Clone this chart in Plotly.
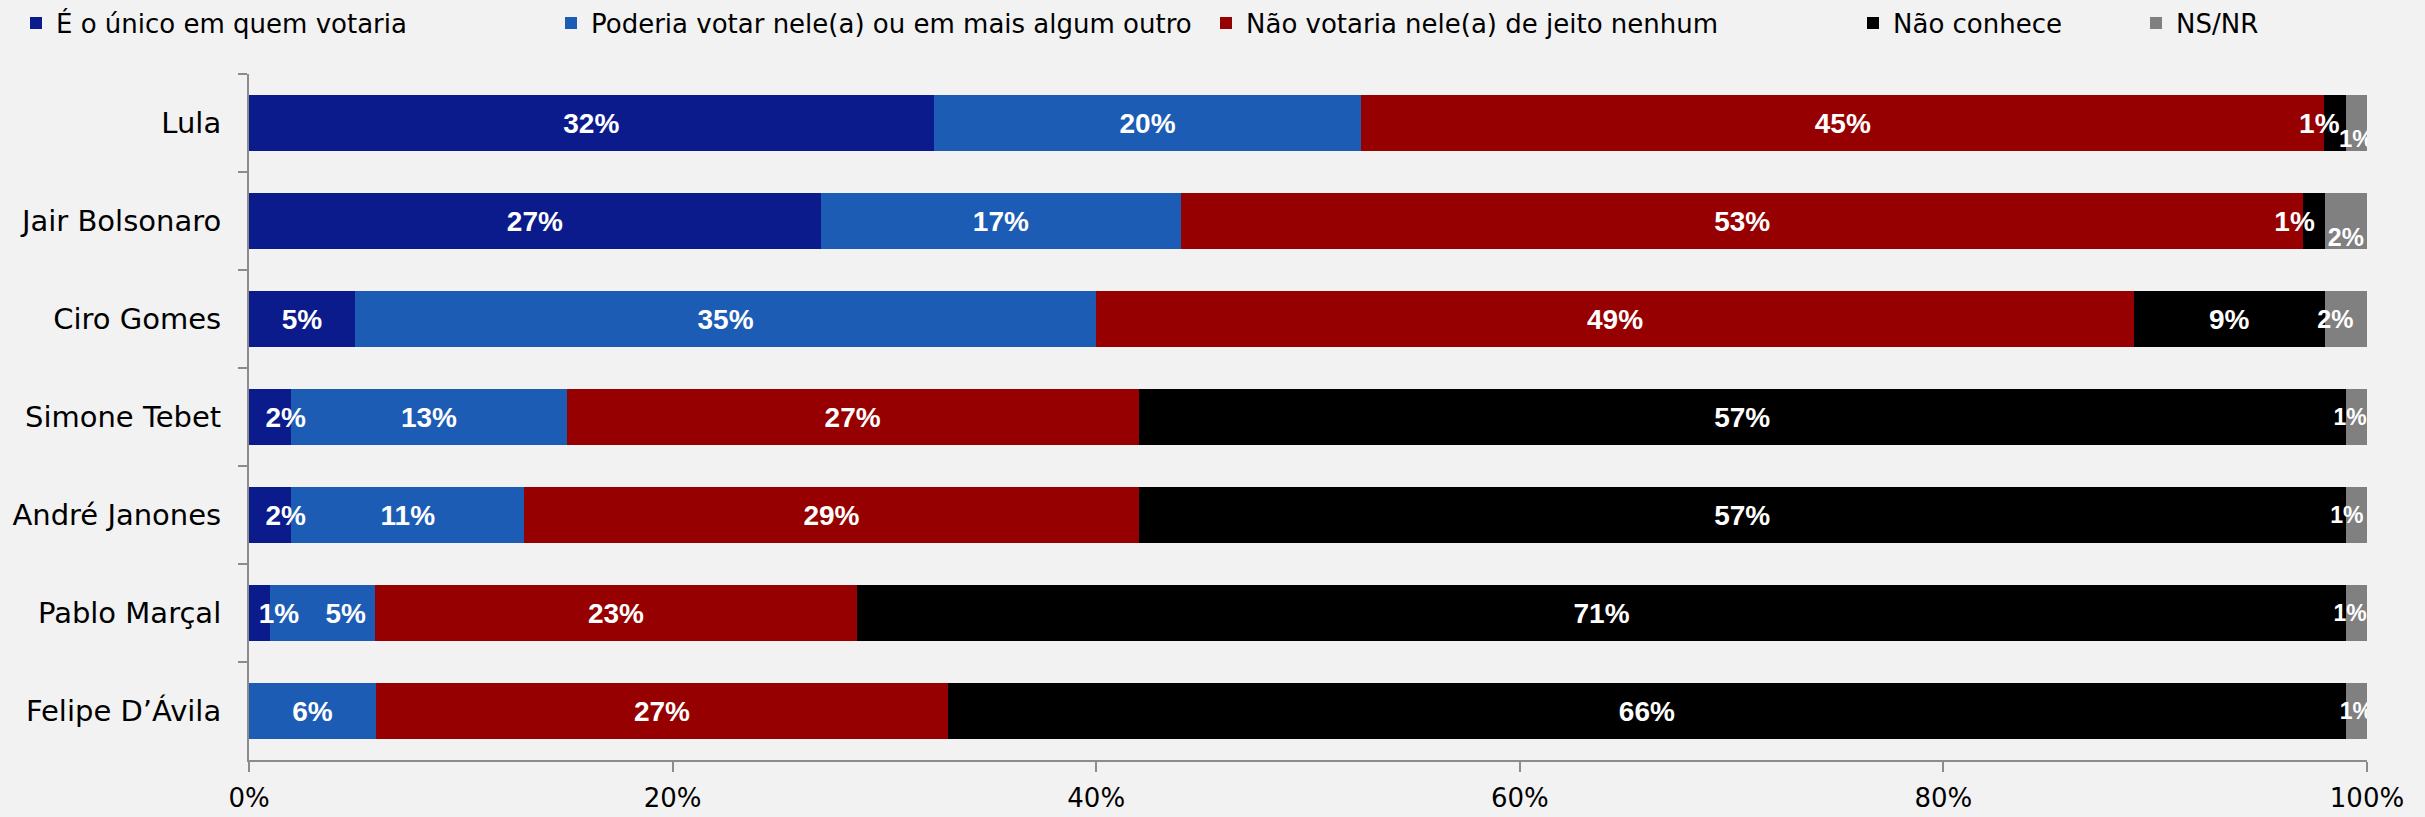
import plotly.graph_objects as go

# ---- data ----
candidates = ["Lula", "Jair Bolsonaro", "Ciro Gomes", "Simone Tebet",
              "André Janones", "Pablo Marçal", "Felipe D’Ávila"]
unico = [32, 27, 5, 2, 2, 1, 0]
poderia = [20, 17, 35, 13, 11, 5, 6]
nao_votaria = [45, 53, 49, 27, 29, 23, 27]
nao_conhece = [1, 1, 9, 57, 57, 71, 66]
ns_nr = [1, 2, 2, 1, 1, 1, 1]

series_names = ["É o único em quem votaria",
                "Poderia votar nele(a) ou em mais algum outro",
                "Não votaria nele(a) de jeito nenhum",
                "Não conhece",
                "NS/NR"]
x_tick_values = [0, 20, 40, 60, 80, 100]
x_tick_labels = ["0%", "20%", "40%", "60%", "80%", "100%"]

# ---- styling ----
colors = ["#0c1b8c", "#1c5cb4", "#960000", "#000000", "#808080"]
legend_px = [16, 551, 1206, 1853, 2136]   # left edge of each legend, in page px
BG = "#f2f2f2"
W, H = 2425, 817
ML, MR, MT, MB = 249, 58, 74, 57
BARGAP = 0.42

# label font sizes per series (grey end labels are smaller)
label_sizes = {4: [24, 25, 25, 23, 23, 23, 23]}
# horizontal label nudges, in non-breaking spaces (+ = right, - = left),
# imitating the hand-placed labels of the original
label_nudge = {
    0: {3: 4, 4: 4, 5: 5},
    1: {5: 6},
    3: {0: -4, 1: -5},
    4: {2: -3, 3: -2, 4: -3, 5: -2},
}
# labels pushed half a line down (grey labels of the first two rows)
label_down = {4: {0, 1}}

all_series = [unico, poderia, nao_votaria, nao_conhece, ns_nr]
NB = "\u00a0"


def labels(i, vals):
    out = []
    for k, v in enumerate(vals):
        t = f"{v}%" if v else ""
        n = label_nudge.get(i, {}).get(k, 0)
        if n > 0:
            t = NB * n + t
        elif n < 0:
            t = t + NB * (-n)
        if k in label_down.get(i, set()):
            t = NB + "<br>" + t
        out.append(t)
    return out


fig = go.Figure()
# coloured stacked bars
for i, (name, vals, col) in enumerate(zip(series_names, all_series, colors)):
    fig.add_trace(go.Bar(
        y=candidates, x=vals, name=name, orientation="h",
        marker=dict(color=col, line=dict(width=0)),
        legend="legend" if i == 0 else f"legend{i + 1}",
        hoverinfo="skip",
    ))
# identical transparent stack on an overlaid axis pair, carrying the labels
# so that every label is drawn above all bars
for i, (name, vals) in enumerate(zip(series_names, all_series)):
    fig.add_trace(go.Bar(
        y=candidates, x=vals, name=name, orientation="h",
        xaxis="x2", yaxis="y2", showlegend=False,
        marker=dict(color="rgba(0,0,0,0)", line=dict(width=0)),
        text=labels(i, vals), texttemplate="%{text}",
        textposition="inside", insidetextanchor="middle",
        constraintext="none", textangle=0,
        textfont=dict(family="Liberation Sans, Arial",
                      size=label_sizes.get(i, [28] * len(vals)),
                      color="white", weight="bold"),
        hoverinfo="skip",
    ))

layout_legends = {}
for i, px in enumerate(legend_px):
    key = "legend" if i == 0 else f"legend{i + 1}"
    layout_legends[key] = dict(
        xref="container", yref="container",
        x=px / W, xanchor="left",
        y=1 - 23 / H, yanchor="middle",
        orientation="h", bgcolor="rgba(0,0,0,0)",
        font=dict(family="DejaVu Sans", size=26, color="black"),
        itemwidth=30, tracegroupgap=0,
    )

fig.update_layout(
    width=W, height=H,
    margin=dict(l=ML, r=MR, t=MT, b=MB, pad=0, autoexpand=False),
    paper_bgcolor=BG, plot_bgcolor=BG,
    barmode="stack", barnorm="percent", bargap=BARGAP,
    showlegend=True,
    xaxis2=dict(overlaying="x", anchor="y2", range=[0, 100], visible=False),
    yaxis2=dict(overlaying="y", anchor="x2", visible=False,
                categoryorder="array", categoryarray=candidates,
                autorange="reversed"),
    **layout_legends,
)

fig.update_xaxes(
    selector=dict(overlaying=None),
)
fig.layout.xaxis.update(
    range=[0, 100], tickvals=x_tick_values, ticktext=x_tick_labels,
    showgrid=False, zeroline=False,
    showline=True, linecolor="#8c8c8c", linewidth=2,
    ticks="outside", ticklen=10, tickcolor="#8c8c8c", tickwidth=1.5,
    tickfont=dict(family="DejaVu Sans", size=26, color="black"),
    ticklabelstandoff=4,
)
fig.layout.yaxis.update(
    categoryorder="array", categoryarray=candidates, autorange="reversed",
    showgrid=False, zeroline=False,
    showline=True, linecolor="#8c8c8c", linewidth=2,
    ticks="outside", ticklen=9, tickcolor="#8c8c8c", tickwidth=1.5,
    tickson="boundaries",
    tickfont=dict(family="DejaVu Sans", size=29, color="black"),
    ticklabelstandoff=20,
)

fig.write_html(
    "out.html",
    config={"displayModeBar": False},
    post_script="document.body.style.margin='0';"
                "document.body.style.background='#f2f2f2';",
)
